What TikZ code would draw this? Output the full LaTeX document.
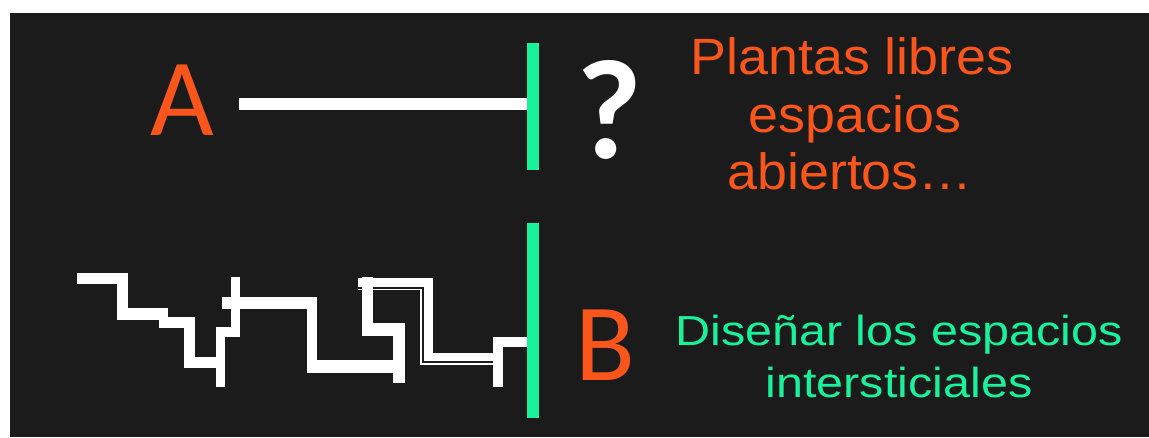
\documentclass[tikz,border=0pt]{standalone}
\usepackage{fontspec}
\setmainfont{Liberation Sans}
\newfontfamily\labfont{Carlito}
\definecolor{bg}{HTML}{1B1B1B}
\definecolor{orng}{HTML}{FA561C}
\definecolor{grn}{HTML}{19F29B}
\tikzset{
  wall/.style={fill=white},
  thinwall/.style={draw=white, line width=1.5pt},
  bar/.style={fill=grn, draw=none, inner sep=0pt, minimum width=12pt},
  otext/.style={text=orng, inner sep=0pt, anchor=base, font=\fontsize{51}{60}\selectfont},
  gtext/.style={text=grn, inner sep=0pt, anchor=base, font=\fontsize{42}{50}\selectfont},
  letter/.style={text=orng, inner sep=0pt, anchor=base, font=\labfont\fontsize{110}{110}\selectfont},
  qmark/.style={text=white, inner sep=0pt, anchor=base, font=\labfont\bfseries\fontsize{142}{142}\selectfont},
}
\begin{document}
\begin{tikzpicture}[x=1pt,y=-1pt]
\useasboundingbox (0,0) rectangle (1149,437);
\fill[white] (0,0) rectangle (1149,437);
\fill[bg] (10,13) rectangle (1149,437);

% green bars
\node[bar, minimum height=127pt] (barA) at (533,106.5) {};
\node[bar, minimum height=195pt] (barB) at (533,320.5) {};

% A branch
\node[letter] (A) at (182.5,135) {A};
\coordinate (astart) at (239,104);
\draw[white, line width=12pt] (astart) -- (astart -| barA.west);
\node[qmark] (q) at (609,158) {?};

% B branch: staircase wall
\fill[wall] (76.7,272.7) rectangle (128.3,284.3);
\fill[wall] (116.7,272.7) rectangle (128.3,320);
\fill[wall] (116.7,308.3) rectangle (168.3,320);
\fill[wall] (159.3,316.7) rectangle (195,328.3);
\fill[wall] (184,316.7) rectangle (195,368.3);
\fill[wall] (184,356.7) rectangle (216.7,368.3);
\fill[wall] (215.7,327.3) rectangle (225,386.7);
\fill[wall] (215.7,327.3) rectangle (240,336.7);
\fill[wall] (231,276.7) rectangle (240,336.7);
\fill[wall] (221.7,297.3) rectangle (317.3,309.3);
\fill[wall] (306.7,297.3) rectangle (317.3,372.7);
\fill[wall] (306.7,360) rectangle (393.3,372.7);
\fill[wall] (392.7,323.3) rectangle (405,383.3);
\fill[wall] (361.7,323.3) rectangle (405,336);
\fill[wall] (361.7,277.3) rectangle (373.3,336);
\fill[wall] (358.3,278.3) rectangle (432.7,286.7);
\fill[wall] (424,278.3) rectangle (432.7,360.5);
\fill[wall] (424,353) rectangle (493.3,360.5);
\fill[wall] (493.3,337.3) rectangle (502.7,386.7);
\coordinate (bstart) at (493.3,342);
\draw[white, line width=9.4pt] (bstart) -- (bstart -| barB.west);
\draw[thinwall] (358,289.6) -- (420.8,289.6) -- (420.8,363.8) -- (493.3,363.8);

\node[letter] (B) at (605.5,380) {B};

% texts
\node[otext] (t1) at (852,74) {\scalebox{1.055}[1]{Plantas libres}};
\node[otext] (t2) at (855,132) {\scalebox{1.055}[1]{espacios}};
\node[otext] (t3) at (850,189) {\scalebox{1.055}[1]{abiertos…}};
\node[gtext] (g1) at (899,345) {\scalebox{1.155}[1]{Diseñar los espacios}};
\node[gtext] (g2) at (899,397) {\scalebox{1.155}[1]{intersticiales}};
\end{tikzpicture}
\end{document}
